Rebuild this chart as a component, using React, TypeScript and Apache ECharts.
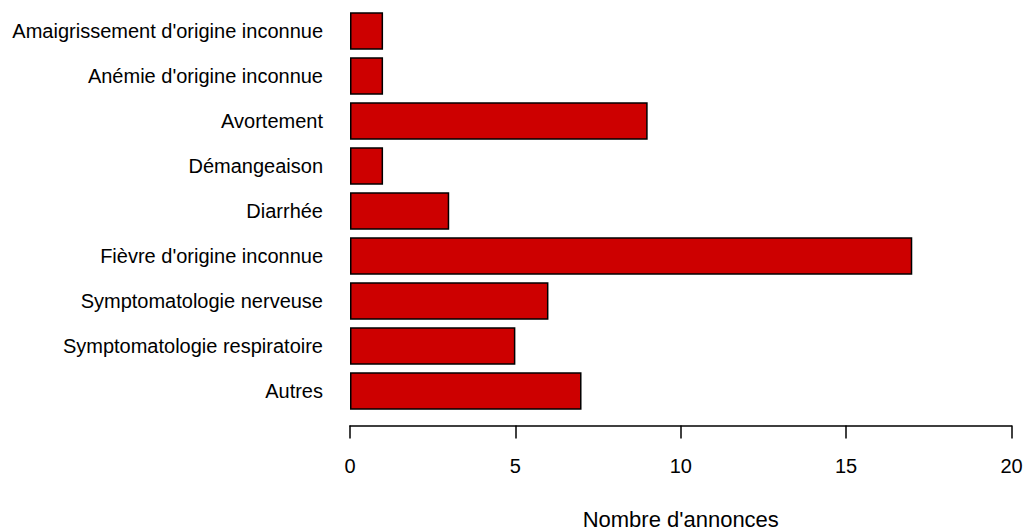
import React, { useEffect, useRef } from "react";
import * as echarts from "echarts";

const categories = [
  "Amaigrissement d'origine inconnue",
  "Anémie d'origine inconnue",
  "Avortement",
  "Démangeaison",
  "Diarrhée",
  "Fièvre d'origine inconnue",
  "Symptomatologie nerveuse",
  "Symptomatologie respiratoire",
  "Autres",
];
const values = [1, 1, 9, 1, 3, 17, 6, 5, 7];
const xTicks = [0, 5, 10, 15, 20];
const xTitle = "Nombre d'annonces";

export default function App() {
  const ref = useRef<HTMLDivElement>(null);
  useEffect(() => {
    const chart = echarts.init(ref.current!, null, { renderer: "svg" });
    const font = "'Liberation Sans', Arial, sans-serif";
    chart.setOption({
      animation: false,
      backgroundColor: "#ffffff",
      grid: {
        left: 350,
        right: 13.5,
        top: 8.5,
        bottom: 117.5,
        containLabel: false,
        outerBoundsMode: "none",
      },
      xAxis: {
        type: "value",
        min: xTicks[0],
        max: xTicks[xTicks.length - 1],
        interval: 5,
        offset: 12,
        name: xTitle,
        nameLocation: "middle",
        nameGap: 83,
        nameTextStyle: { color: "#000", fontSize: 22, fontFamily: font },
        axisLine: { show: true, lineStyle: { color: "#000", width: 1.5 } },
        axisTick: { show: true, length: 13, lineStyle: { color: "#000", width: 1.5 } },
        axisLabel: { color: "#000", fontSize: 20, fontFamily: font, margin: 30 },
        splitLine: { show: false },
      },
      yAxis: {
        type: "category",
        data: categories,
        inverse: true,
        axisLine: { show: false },
        axisTick: { show: false },
        axisLabel: { color: "#000", fontSize: 20, fontFamily: font, margin: 27 },
      },
      series: [
        {
          type: "bar",
          data: values,
          barCategoryGap: "16.5%",
          itemStyle: { color: "#CD0000", borderColor: "#000", borderWidth: 1.5 },
        },
      ],
    });
    return () => chart.dispose();
  }, []);
  return (
    <div
      ref={ref}
      style={{ position: "absolute", left: 0, top: 0, width: 1025, height: 531 }}
    />
  );
}
